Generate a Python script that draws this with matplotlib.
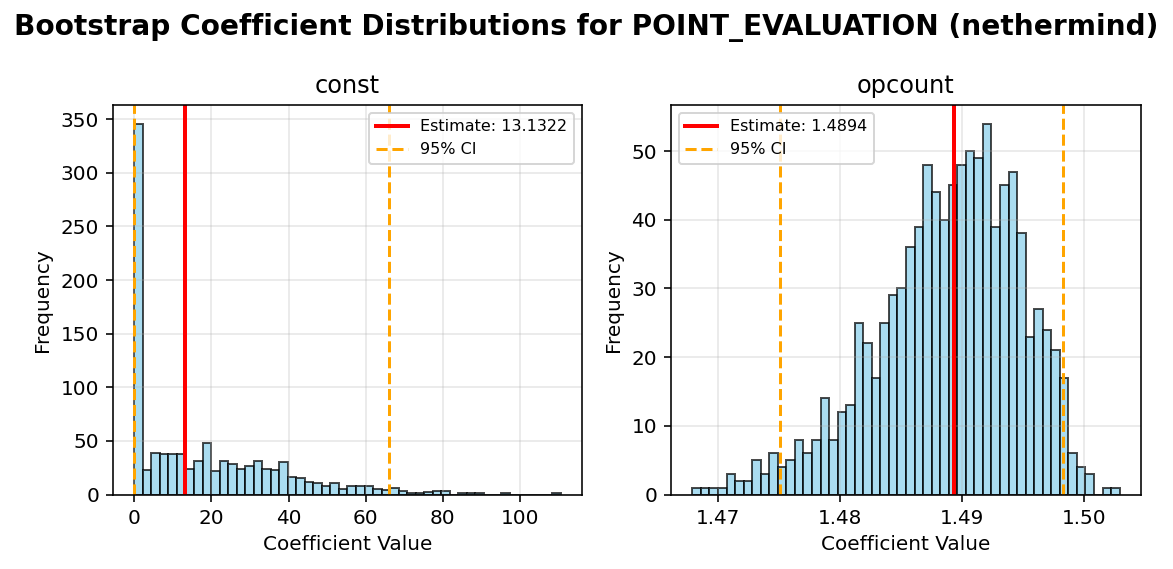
#!/usr/bin/env python3
"""
Bootstrap coefficient histograms for POINT_EVALUATION (nethermind)
"""

import matplotlib
matplotlib.use('Agg')
import matplotlib.pyplot as plt
import numpy as np

# --- values ---
const_range = (0.0, 110.6)
const_counts = [346, 23, 39, 38, 38, 38, 24, 31, 48, 22,
                31, 28, 24, 27, 31, 24, 23, 30, 16, 15,
                12, 11, 8, 11, 5, 8, 8, 8, 5, 4,
                6, 3, 1, 1, 2, 3, 3, 0, 1, 1,
                1, 0, 0, 1, 0, 0, 0, 0, 0, 1]
const_estimate = 13.1322
const_ci = (0.0, 66.0)

opcount_range = (1.46792, 1.50294)
opcount_counts = [1, 1, 1, 1, 3, 2, 2, 5, 3, 6,
                  4, 5, 8, 6, 8, 14, 8, 12, 13, 25,
                  22, 17, 25, 29, 30, 36, 39, 48, 44, 40,
                  45, 48, 50, 49, 54, 39, 45, 47, 38, 23,
                  27, 24, 21, 17, 6, 4, 3, 0, 1, 1]
opcount_estimate = 1.4894
opcount_ci = (1.47508, 1.49831)

panels = [
    ('const', const_range, const_counts, const_estimate, const_ci),
    ('opcount', opcount_range, opcount_counts, opcount_estimate, opcount_ci),
]


def draw_panel(ax, name, rng, counts, estimate, ci):
    edges = np.linspace(rng[0], rng[1], len(counts) + 1)
    centers = (edges[:-1] + edges[1:]) / 2
    ax.hist(centers, bins=edges, weights=counts, color='skyblue',
            edgecolor='black', alpha=0.7)
    ax.axvline(estimate, color='red', linewidth=2,
               label=f'Estimate: {estimate:.4f}')
    ax.axvline(ci[0], color='orange', linestyle='--', linewidth=1.5,
               label='95% CI')
    ax.axvline(ci[1], color='orange', linestyle='--', linewidth=1.5)
    ax.set_title(name, fontsize=12)
    ax.set_xlabel('Coefficient Value')
    ax.set_ylabel('Frequency')
    ax.legend(fontsize=8)
    ax.grid(True, alpha=0.3)


DPI = 144
fig, axes = plt.subplots(1, 2, figsize=(1173 / DPI, 569 / DPI), dpi=DPI)

for ax, (name, rng, counts, est, ci) in zip(axes, panels):
    draw_panel(ax, name, rng, counts, est, ci)

# match axis box positions of the reference
axes[0].set_position([113 / 1173, 1 - 494.5 / 569, 469 / 1173, 389.5 / 569])
axes[1].set_position([671 / 1173, 1 - 494.5 / 569, 470 / 1173, 389.5 / 569])

fig.suptitle('Bootstrap Coefficient Distributions for POINT_EVALUATION (nethermind)',
             fontsize=14, fontweight='bold', y=0.978)

fig.savefig('out.png', dpi=DPI)
